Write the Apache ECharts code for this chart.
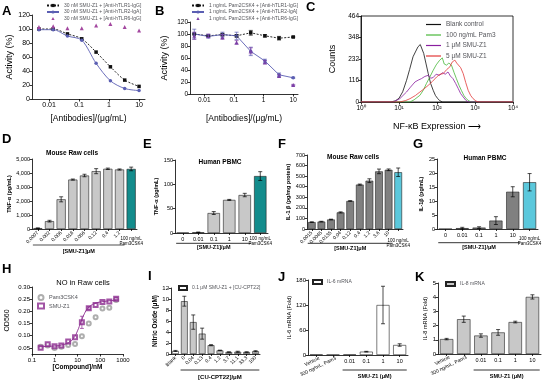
<!DOCTYPE html>
<html>
<head>
<meta charset="utf-8">
<script src="https://cdn.jsdelivr.net/npm/echarts@6/dist/echarts.min.js"></script>
<style>
  html, body { margin: 0; background: #fff; }
  #main { width: 545px; height: 382px; }
</style>
</head>
<body>
<div id="main"></div>
<script>
// ---- A / B: antibody titration (ug/mL) ----
const abDose = [0.0046, 0.0137, 0.041, 0.123, 0.37, 1.11, 3.33, 10];
const aTLR1 = [100, 100, 93, 86, 67, 46, 27, 18];
const aTLR2 = [99, 99, 90, 84, 51, 26, 15, 12];
const aTLR6 = [103, 104, 101, 101, 105, 107, 103, 98];
const bTLR1 = [100, 97, 99, 97, 102, 97, 93, 95];
const bTLR2 = [100, 96, 99, 97, 71, 55, 32, 27];
const bTLR6 = [97, 97, 95, 86, 72, 53, 30, 15];
const bErr1 = [1, 1, 2, 2, 4, 2, 3, 1];
const bErr2 = [8, 3, 4, 6, 7, 3, 3, 1];
const bErr6 = [6, 3, 4, 3, 5, 3, 2, 1];

// ---- C: flow cytometry histograms ----
const cBlankX = [1, 5.9, 8, 10, 12.5, 15.8, 19, 23.4, 27, 31.6, 34, 36.3, 39, 44.7, 51, 58.9, 68, 79.4, 91, 105, 120, 141, 10000];
const cBlankY = [0, 0, 6, 20, 55, 117, 175, 244, 270, 298, 290, 310, 300, 262, 210, 153, 100, 63, 35, 18, 6, 0, 0];
const cPamX = [1, 19.5, 25, 35.5, 44, 52.5, 63, 79.4, 95, 117, 130, 138, 155, 178, 205, 240, 280, 324, 380, 437, 510, 589, 690, 794, 10000];
const cPamY = [0, 0, 12, 36, 65, 99, 130, 171, 200, 225, 215, 238, 205, 199, 210, 199, 160, 126, 90, 63, 35, 18, 6, 0, 0];
const cZ1X = [1, 7.1, 10.5, 15.8, 20, 26.3, 32, 38.9, 48, 58.9, 68, 79.4, 95, 117, 140, 165, 195, 225, 263, 310, 363, 420, 490, 570, 661, 10000];
const cZ1Y = [0, 0, 18, 54, 80, 108, 118, 126, 138, 144, 128, 132, 150, 144, 158, 150, 162, 140, 126, 100, 72, 45, 27, 10, 0, 0];
const cZ5X = [1, 10.5, 15, 19.5, 27, 35.5, 45, 58.9, 75, 97.7, 120, 145, 180, 219, 250, 295, 330, 363, 420, 490, 570, 661, 770, 891, 1050, 1202, 10000];
const cZ5Y = [0, 0, 8, 18, 35, 54, 70, 90, 110, 135, 150, 153, 175, 190, 215, 226, 210, 217, 185, 153, 105, 63, 35, 18, 6, 0, 0];

// ---- D..G: cytokine bars ----
const dCats = ['0.0007', '0.002', '0.006', '0.018', '0.056', '0.12', '0.4', '1.2', 'Pam3CSK4'];
const dVals = [60, 560, 2120, 3530, 3820, 4130, 4300, 4250, 4290];
const dErr = [20, 60, 180, 40, 90, 180, 50, 40, 130];
const eCats = ['0', '0.01', '0.1', '1', '10', 'Pam3CSK4'];
const eVals = [0.5, 1.5, 41, 68, 78, 117];
const eErr = [0, 0.5, 3, 1, 3.5, 9];
const fCats = ['0.0015', '0.0045', '0.0135', '0.04', '0.12', '0.4', '1.2', '3.6', '10', 'Pam3CSK4'];
const fVals = [65, 70, 90, 157, 265, 420, 457, 545, 560, 537];
const fErr = [3, 3, 3, 5, 3, 5, 18, 22, 8, 40];
const gCats = ['0', '0.01', '0.1', '1', '10', 'Pam3CSK4'];
const gVals = [0, 0.3, 0.5, 3.0, 13.3, 16.7];
const gErr = [0, 0.3, 0.3, 1.4, 1.8, 3.1];

// ---- H: NO production (nM) ----
const hDose = [0.24, 0.49, 0.98, 1.95, 3.9, 7.8, 15.6, 31.25, 62.5, 125, 250, 500];
const hSMU = [0.051, 0.065, 0.057, 0.060, 0.076, 0.094, 0.155, 0.213, 0.226, 0.238, 0.240, 0.252];
const hSMUErr = [0, 0, 0, 0, 0, 0, 0.025, 0.005, 0, 0, 0, 0.005];
const hPam3 = [0.055, 0.060, 0.050, 0.055, 0.062, 0.066, 0.098, 0.150, 0.176, 0.212, 0.215, 0.247];
const hFitX = [0.2, 1, 2, 4, 7, 10, 14, 20, 28, 40, 55, 110, 500];
const hFitY = [0.055, 0.058, 0.062, 0.072, 0.092, 0.12, 0.155, 0.19, 0.212, 0.225, 0.232, 0.239, 0.246];

// ---- I: CU-CPT22 inhibition ----
const iCats = ['Blank', '0', '0.04', '0.13', '0.4', '1.2', '3.7', '11.1', '33.3', '100'];
const iVals = [0.55, 9.6, 5.8, 3.7, 1.6, 0.65, 0.35, 0.4, 0.35, 0.5];
const iErr = [0.1, 0.9, 1.3, 1.0, 0.1, 0.05, 0.05, 0.1, 0.05, 0.1];

// ---- J / K: mRNA fold ----
const jkCats = ['Vehicle', '300 ng/mL Pam3', '0.01', '0.1', '1', '10'];
const jVals = [1, 0.6, 1, 8, 120, 24];
const jErr = [0, 0, 0, 0.8, 45, 3];
const kVals = [1.05, 2.45, 1.3, 1.52, 2.25, 4.02];
const kErr = [0.05, 0.22, 0.12, 0.2, 0.06, 0.15];

const FONT = '"Liberation Sans", Arial, sans-serif';
const AX = { lineStyle: { color: '#000', width: 0.8 } };

function errRender(color) {
  return function (params, api) {
    const x = api.value(0), y = api.value(1), e = api.value(2);
    if (!e) return null;
    const top = api.coord([x, y + e]);
    const bot = api.coord([x, y - e]);
    const c = 2;
    const st = { stroke: color, lineWidth: 0.7 };
    return { type: 'group', children: [
      { type: 'line', shape: { x1: top[0], y1: top[1], x2: bot[0], y2: bot[1] }, style: st },
      { type: 'line', shape: { x1: top[0] - c, y1: top[1], x2: top[0] + c, y2: top[1] }, style: st },
      { type: 'line', shape: { x1: bot[0] - c, y1: bot[1], x2: bot[0] + c, y2: bot[1] }, style: st }
    ]};
  };
}
function errSeries(gi, xs, ys, es, color) {
  return {
    type: 'custom', xAxisIndex: gi, yAxisIndex: gi, z: 5, silent: true,
    renderItem: errRender(color || '#000'),
    encode: { x: 0, y: 1 },
    data: ys.map((y, i) => [xs ? xs[i] : i, y, es[i]])
  };
}
function barSeries(gi, name, vals, colorOf, gap) {
  return {
    type: 'bar', name: name, xAxisIndex: gi, yAxisIndex: gi, barCategoryGap: gap,
    itemStyle: { color: colorOf(0), borderColor: '#222', borderWidth: 0.6 },
    data: vals.map((v, i) => ({ value: v, itemStyle: { color: colorOf(i) } }))
  };
}
function yAx(gi, min, max, interval, name, gap, fs, nfs, bold) {
  return {
    type: 'value', gridIndex: gi, min: min, max: max, interval: interval,
    name: name, nameLocation: 'middle', nameGap: gap, nameRotate: 90,
    nameTextStyle: { fontSize: nfs, fontWeight: bold ? 'bold' : 'normal', color: '#000' },
    axisLine: Object.assign({ show: true }, AX),
    axisTick: Object.assign({ show: true, length: 2.5 }, AX),
    splitLine: { show: false },
    axisLabel: { fontSize: fs, color: '#000', margin: 2 }
  };
}
function logX(gi, min, max, ticks, name, gap, fs, nfs, bold, fmt) {
  const ax = {
    type: 'log', logBase: 10, gridIndex: gi, min: min, max: max,
    name: name, nameLocation: 'middle', nameGap: gap,
    nameTextStyle: { fontSize: nfs, fontWeight: bold ? 'bold' : 'normal', color: '#000' },
    axisLine: Object.assign({ show: true }, AX),
    axisTick: Object.assign({ show: true, length: 2.5 }, AX),
    splitLine: { show: false },
    axisLabel: { fontSize: fs, color: '#000', margin: 3, formatter: fmt || (v => String(v)) }
  };
  if (ticks) { ax.axisLabel.customValues = ticks; ax.axisTick.customValues = ticks; }
  return ax;
}
function catX(gi, cats, fs, rotate, hide) {
  return {
    type: 'category', gridIndex: gi, data: cats,
    axisLine: Object.assign({ show: true }, AX),
    axisTick: Object.assign({ show: true, length: 2, alignWithLabel: true }, AX),
    axisLabel: { fontSize: fs, color: '#000', margin: 3, rotate: rotate, interval: 0,
      formatter: (v, i) => hide(i) ? '' : v }
  };
}
const lastOf = n => (i => i === n - 1);
const never = () => false;
const firstTwo = i => i < 2;
const sup = ['\u2070', '\u00b9', '\u00b2', '\u00b3', '\u2074'];

const teal = '#138c8c', lgray = '#c8c8c8', dgray = '#808080', cyan = '#5bc8dc';
const blk = '#111', blue = '#5b5fb3', mag = '#a3479f', purp = '#8b2a8f';

const titleStyle = (fs, bold) => ({ fontSize: fs, fontWeight: bold ? 'bold' : 'normal', color: '#000', fontFamily: FONT });
const letter = (t, l, tp) => ({ text: t, left: l, top: tp, padding: 0, textStyle: titleStyle(13, true) });
const sub = (t, cxp, tp, fs, bold) => ({ text: t, left: cxp, top: tp, textAlign: 'center', padding: 0, textStyle: titleStyle(fs, bold) });

const chart = echarts.init(document.getElementById('main'), null, { renderer: 'canvas' });

const option = {
  animation: false,
  backgroundColor: '#fff',
  textStyle: { fontFamily: FONT, color: '#000' },
  title: [
    letter('A', 2, 5), letter('B', 155, 5), letter('C', 306, 1),
    letter('D', 2, 133), letter('E', 143, 138), letter('F', 278, 138), letter('G', 413, 138),
    letter('H', 2, 263), letter('I', 148, 270), letter('J', 278, 271), letter('K', 415, 271),
    sub('Mouse Raw cells', 72, 150, 6.5, true),
    sub('Human PBMC', 220, 159, 6.5, true),
    sub('Mouse Raw cells', 353, 154, 6.5, true),
    sub('Human PBMC', 485, 155, 6.5, true),
    sub('NO in Raw cells', 83, 279, 7.5, false)
  ],
  legend: [
    { left: 46, top: 3, orient: 'vertical', itemGap: 1.5, itemWidth: 12, itemHeight: 4, padding: 0,
      textStyle: { fontSize: 5 },
      data: ['30 nM SMU-Z1 + [Anti-hTLR1-IgG]', '30 nM SMU-Z1 + [Anti-hTLR2-IgA]', '30 nM SMU-Z1 + [Anti-hTLR6-IgG]'] },
    { left: 191, top: 3, orient: 'vertical', itemGap: 1.5, itemWidth: 12, itemHeight: 4, padding: 0,
      textStyle: { fontSize: 5 },
      data: ['1 ng/mL Pam2CSK4 + [Anti-hTLR1-IgG]', '1 ng/mL Pam2CSK4 + [Anti-hTLR2-IgA]', '1 ng/mL Pam2CSK4 + [Anti-hTLR6-IgG]'] },
    { left: 426, top: 21, orient: 'vertical', itemGap: 3.5, itemWidth: 15, itemHeight: 1.2, padding: 0,
      icon: 'rect', textStyle: { fontSize: 6.5 },
      data: ['Blank control', '100 ng/mL Pam3', '1 \u03bcM SMU-Z1', '5 \u03bcM SMU-Z1'] },
    { left: 37, top: 294, orient: 'vertical', itemGap: 1.5, itemWidth: 6, itemHeight: 5, padding: 0,
      textStyle: { fontSize: 5.5 }, data: ['Pam3CSK4', 'SMU-Z1'] },
    { left: 178, top: 285, itemWidth: 8, itemHeight: 4, padding: 0, icon: 'rect',
      textStyle: { fontSize: 5 }, data: ['0.1 \u03bcM SMU-Z1 + [CU-CPT22]'] },
    { left: 312, top: 279, itemWidth: 9, itemHeight: 4, padding: 0, icon: 'rect',
      textStyle: { fontSize: 5 }, data: ['IL-6 mRNA'] },
    { left: 445, top: 281, itemWidth: 9, itemHeight: 4, padding: 0, icon: 'rect',
      textStyle: { fontSize: 5 }, data: ['IL-8 mRNA'] }
  ],
  grid: [
    { left: 32, top: 15, width: 113, height: 84 },
    { left: 190, top: 22, width: 108, height: 72 },
    { left: 361, top: 16, width: 152, height: 86, show: true, borderColor: '#000', borderWidth: 0.8 },
    { left: 32, top: 159, width: 105, height: 70 },
    { left: 175, top: 160, width: 93, height: 73 },
    { left: 307, top: 155, width: 96, height: 74 },
    { left: 437, top: 159, width: 101, height: 70 },
    { left: 32, top: 287, width: 91, height: 67 },
    { left: 171, top: 288, width: 89, height: 66 },
    { left: 308, top: 280, width: 100, height: 75 },
    { left: 438, top: 283, width: 103, height: 71 }
  ],
  xAxis: [
    logX(0, 0.0027, 15.8, [0.01, 0.1, 1, 10], '[Antibodies]/(\u03bcg/mL)', 15, 7, 8.5, false),
    logX(1, 0.0033, 14.5, [0.01, 0.1, 1, 10], '[Antibodies]/(\u03bcg/mL)', 20, 6.5, 8.5, false),
    logX(2, 1, 10000, null, 'NF-\u03baB Expression \u27f6', 20, 6.5, 9, false,
      v => '10' + sup[Math.round(Math.log10(v))]),
    catX(3, dCats, 5, 45, lastOf(dCats.length)),
    catX(4, eCats, 5.5, 0, lastOf(eCats.length)),
    catX(5, fCats, 5, 45, lastOf(fCats.length)),
    catX(6, gCats, 5.5, 0, lastOf(gCats.length)),
    logX(7, 0.1, 1000, null, '[Compound]/nM', 10, 6, 6.5, true),
    catX(8, iCats, 5, 45, never),
    catX(9, jkCats, 5.5, 0, firstTwo),
    catX(10, jkCats, 5.5, 0, firstTwo)
  ],
  yAxis: [
    yAx(0, 0, 120, 20, 'Activity (%)', 16, 7, 9, false),
    yAx(1, 0, 120, 20, 'Activity (%)', 21, 6.5, 9, false),
    yAx(2, 0, 464, 116, 'Counts', 24, 6.5, 9, false),
    yAx(3, 0, 5000, 1000, 'TNF-\u03b1 (pg/mL)', 19, 5.5, 5.5, true),
    yAx(4, 0, 150, 50, 'TNF-\u03b1 (pg/mL)', 14, 5.5, 5.5, true),
    yAx(5, 0, 700, 100, 'IL-1 \u03b2 (pg/mg protein)', 14, 5.5, 5.5, true),
    yAx(6, 0, 25, 5, 'IL-1\u03b2 (pg/mL)', 11, 5.5, 5.5, true),
    Object.assign(yAx(7, 0.025, 0.30, null, 'OD560', 21, 6, 7, false), {
      axisLabel: { fontSize: 6, color: '#000', margin: 2, formatter: v => v.toFixed(2),
        customValues: [0.05, 0.10, 0.15, 0.20, 0.25, 0.30] },
      axisTick: Object.assign({ show: true, length: 2.5, customValues: [0.05, 0.10, 0.15, 0.20, 0.25, 0.30] }, AX)
    }),
    yAx(8, 0, 12, 2, 'Nitric Oxide (\u03bcM)', 10, 6, 6.5, true),
    yAx(9, 0, 180, 60, 'IL-6 mRNA (Fold)', 14, 6, 5.5, false),
    yAx(10, 0, 5, 1, 'IL-8 mRNA (Fold)', 10, 6, 5.5, false)
  ],
  series: [
    // A
    { type: 'line', name: '30 nM SMU-Z1 + [Anti-hTLR1-IgG]', xAxisIndex: 0, yAxisIndex: 0, smooth: 0.3,
      symbol: 'rect', symbolSize: 3.5, color: blk, lineStyle: { width: 0.9, type: [2, 1.5] },
      data: abDose.map((d, i) => [d, aTLR1[i]]) },
    { type: 'line', name: '30 nM SMU-Z1 + [Anti-hTLR2-IgA]', xAxisIndex: 0, yAxisIndex: 0, smooth: 0.3,
      symbol: 'circle', symbolSize: 3.5, color: blue, lineStyle: { width: 0.9 },
      data: abDose.map((d, i) => [d, aTLR2[i]]) },
    { type: 'line', name: '30 nM SMU-Z1 + [Anti-hTLR6-IgG]', xAxisIndex: 0, yAxisIndex: 0,
      symbol: 'triangle', symbolSize: 4, color: mag, lineStyle: { width: 0 },
      data: abDose.map((d, i) => [d, aTLR6[i]]) },
    // B
    { type: 'line', name: '1 ng/mL Pam2CSK4 + [Anti-hTLR1-IgG]', xAxisIndex: 1, yAxisIndex: 1,
      symbol: 'rect', symbolSize: 3.5, color: blk, lineStyle: { width: 0.9, type: [2, 1.5] },
      data: abDose.map((d, i) => [d, bTLR1[i]]) },
    { type: 'line', name: '1 ng/mL Pam2CSK4 + [Anti-hTLR2-IgA]', xAxisIndex: 1, yAxisIndex: 1,
      symbol: 'circle', symbolSize: 3.5, color: blue, lineStyle: { width: 0.9 },
      data: abDose.map((d, i) => [d, bTLR2[i]]) },
    { type: 'line', name: '1 ng/mL Pam2CSK4 + [Anti-hTLR6-IgG]', xAxisIndex: 1, yAxisIndex: 1,
      symbol: 'triangle', symbolSize: 4, color: '#7c3fa6', lineStyle: { width: 0 },
      data: abDose.map((d, i) => [d, bTLR6[i]]) },
    errSeries(1, abDose, bTLR1, bErr1, blk),
    errSeries(1, abDose, bTLR2, bErr2, blue),
    errSeries(1, abDose, bTLR6, bErr6, '#7c3fa6'),
    // C
    { type: 'line', name: 'Blank control', xAxisIndex: 2, yAxisIndex: 2, symbol: 'none', color: '#111',
      lineStyle: { width: 0.8 }, data: cBlankX.map((x, i) => [x, cBlankY[i]]) },
    { type: 'line', name: '100 ng/mL Pam3', xAxisIndex: 2, yAxisIndex: 2, symbol: 'none', color: '#48b83a',
      lineStyle: { width: 0.8 }, data: cPamX.map((x, i) => [x, cPamY[i]]) },
    { type: 'line', name: '1 \u03bcM SMU-Z1', xAxisIndex: 2, yAxisIndex: 2, symbol: 'none', color: '#8a1f9f',
      lineStyle: { width: 0.8 }, data: cZ1X.map((x, i) => [x, cZ1Y[i]]) },
    { type: 'line', name: '5 \u03bcM SMU-Z1', xAxisIndex: 2, yAxisIndex: 2, symbol: 'none', color: '#e23838',
      lineStyle: { width: 0.8 }, data: cZ5X.map((x, i) => [x, cZ5Y[i]]) },
    // D-G
    barSeries(3, 'd', dVals, i => i === dVals.length - 1 ? teal : lgray, '22%'),
    errSeries(3, null, dVals, dErr),
    barSeries(4, 'e', eVals, i => i === eVals.length - 1 ? teal : lgray, '20%'),
    errSeries(4, null, eVals, eErr),
    barSeries(5, 'f', fVals, i => i === fVals.length - 1 ? cyan : dgray, '20%'),
    errSeries(5, null, fVals, fErr),
    barSeries(6, 'g', gVals, i => i === gVals.length - 1 ? cyan : dgray, '22%'),
    errSeries(6, null, gVals, gErr),
    // H
    { type: 'line', name: 'fit', xAxisIndex: 7, yAxisIndex: 7, smooth: true, symbol: 'none',
      color: purp, lineStyle: { width: 0.9 }, data: hFitX.map((x, i) => [x, hFitY[i]]) },
    { type: 'scatter', name: 'Pam3CSK4', xAxisIndex: 7, yAxisIndex: 7, symbol: 'emptyCircle', symbolSize: 4,
      color: '#9a9a9a', data: hDose.map((x, i) => [x, hPam3[i]]) },
    { type: 'scatter', name: 'SMU-Z1', xAxisIndex: 7, yAxisIndex: 7, symbol: 'emptyRect', symbolSize: 4,
      color: purp, data: hDose.map((x, i) => [x, hSMU[i]]) },
    errSeries(7, hDose, hSMU, hSMUErr, purp),
    // I
    barSeries(8, '0.1 \u03bcM SMU-Z1 + [CU-CPT22]', iVals, i => i === 0 ? '#fff' : lgray, '24%'),
    errSeries(8, null, iVals, iErr),
    // J, K
    barSeries(9, 'IL-6 mRNA', jVals, () => '#fff', '22%'),
    errSeries(9, null, jVals, jErr),
    barSeries(10, 'IL-8 mRNA', kVals, () => lgray, '22%'),
    errSeries(10, null, kVals, kErr)
  ]
};

chart.setOption(option);

// brackets and special category labels, placed from the axes
const g = [];
const cx = (gi, i) => chart.convertToPixel({ gridIndex: gi }, [i, 0])[0];
const txt = (x, y, text, fs, bold, align, valign, rot) => ({
  type: 'text', x: x, y: y, rotation: rot || 0, silent: true,
  style: { text: text, fontSize: fs, fontWeight: bold ? 'bold' : 'normal', fontFamily: FONT,
    fill: '#000', textAlign: align || 'center', textVerticalAlign: valign || 'middle' }
});
function bracket(gi, i0, i1, y, color, w, label, ly, fs) {
  const half = (cx(gi, 1) - cx(gi, 0)) / 2;
  const x0 = cx(gi, i0) - half * 0.85, x1 = cx(gi, i1) + half * 0.85;
  g.push({ type: 'line', silent: true, shape: { x1: x0, y1: y, x2: x1, y2: y }, style: { stroke: color, lineWidth: w } });
  g.push(txt((x0 + x1) / 2, ly, label, fs, true));
}
bracket(3, 0, 7, 245, '#8a8a8a', 1.5, '[SMU-Z1]\u03bcM', 251.5, 5.5);
bracket(4, 0, 4, 243.3, '#000', 0.8, '[SMU-Z1]/\u03bcM', 247.5, 5.5);
bracket(5, 0, 8, 243.3, '#000', 0.8, '[SMU-Z1]\u03bcM', 248.5, 5.5);
bracket(6, 0, 4, 242.7, '#000', 0.8, '[SMU-Z1]/\u03bcM', 247.5, 5.5);
bracket(8, 1, 9, 370, '#000', 0.8, '[CU-CPT22]/\u03bcM', 377.5, 6);
bracket(9, 2, 5, 370, '#000', 0.8, 'SMU-Z1 (\u03bcM)', 376.5, 5.5);
bracket(10, 2, 5, 370, '#000', 0.8, 'SMU-Z1 (\u03bcM)', 376.5, 5.5);

[[3, dCats.length - 1, 236], [4, eCats.length - 1, 236], [5, fCats.length - 1, 238], [6, gCats.length - 1, 236]]
  .forEach(([gi, i, y]) => g.push(txt(cx(gi, i), y, '100 ng/mL\nPam3CSK4', 4.5, false, 'center', 'top')));

[[9, 358], [10, 357]].forEach(([gi, y]) => {
  g.push(txt(cx(gi, 0) + 3, y, 'Vehicle', 5, false, 'right', 'middle', Math.PI / 7));
  g.push(txt(cx(gi, 1) + 3, y, '300 ng/mL, Pam3', 5, false, 'right', 'middle', Math.PI / 7));
});

chart.setOption({ graphic: g });
</script>
</body>
</html>
